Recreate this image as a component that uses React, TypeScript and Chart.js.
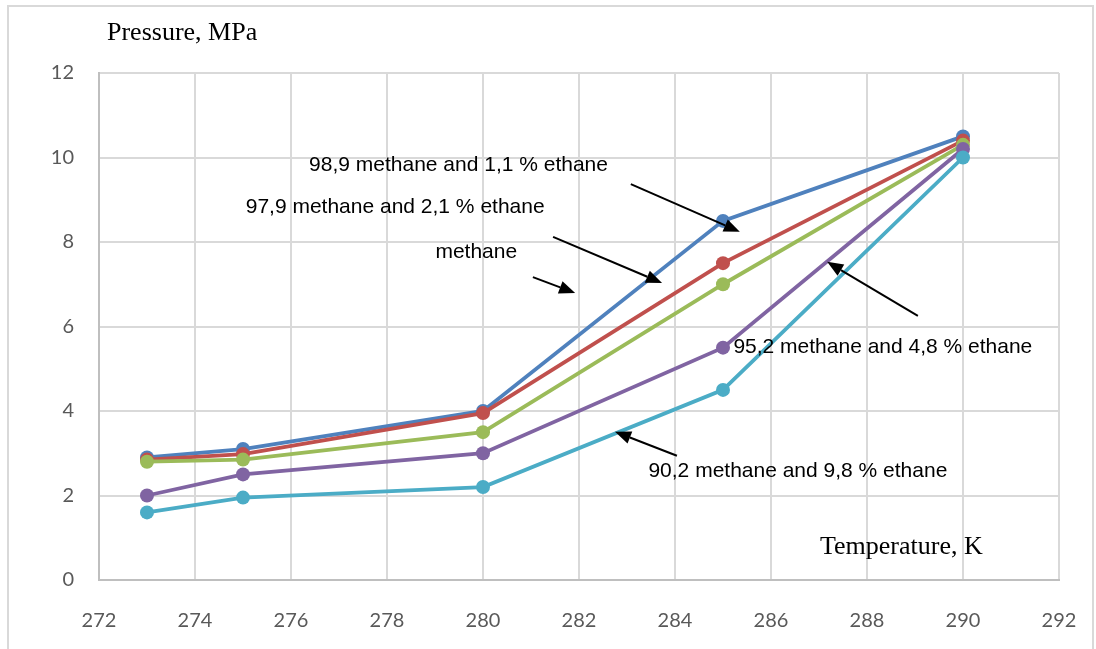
import React, { useEffect, useRef } from "react";
import { Chart, registerables } from "chart.js";

Chart.register(...registerables);

const temperatures = [273, 275, 280, 285, 290];
const series989 = [2.9, 3.1, 4.0, 8.5, 10.5];
const series979 = [2.85, 2.98, 3.95, 7.5, 10.4];
const seriesMethane = [2.8, 2.85, 3.5, 7.0, 10.3];
const series952 = [2.0, 2.5, 3.0, 5.5, 10.2];
const series902 = [1.6, 1.95, 2.2, 4.5, 10.0];

const seriesLabels = [
  "98,9 methane and 1,1 % ethane",
  "97,9 methane and 2,1 % ethane",
  "methane",
  "95,2 methane and 4,8 % ethane",
  "90,2 methane and 9,8 % ethane",
];
const seriesValues = [series989, series979, seriesMethane, series952, series902];
const seriesColors = ["#4F81BD", "#C0504D", "#9BBB59", "#8064A2", "#4BACC6"];

const yAxisTitle = "Pressure, MPa";
const xAxisTitle = "Temperature, K";

// annotation texts (in data coordinates) with arrows
const noteTexts = [
  "98,9 methane and 1,1 % ethane",
  "97,9 methane and 2,1 % ethane",
  "methane",
  "95,2 methane and 4,8 % ethane",
  "90,2 methane and 9,8 % ethane",
];
const notePos = [
  [279.49, 9.82],
  [278.17, 8.83],
  [279.86, 7.77],
  [288.33, 5.52],
  [286.56, 2.57],
];
const arrowFrom = [
  [283.08, 9.37],
  [281.46, 8.12],
  [281.04, 7.17],
  [289.06, 6.25],
  [284.04, 2.94],
];
const arrowTo = [
  [285.35, 8.24],
  [283.73, 7.03],
  [281.92, 6.79],
  [287.17, 7.53],
  [282.75, 3.51],
];

const decorPlugin = {
  id: "decor",
  beforeDraw(chart: any) {
    const ctx = chart.ctx;
    ctx.save();
    ctx.fillStyle = "#ffffff";
    ctx.fillRect(0, 0, chart.width, chart.height);
    ctx.strokeStyle = "#d9d9d9";
    ctx.lineWidth = 2;
    ctx.strokeRect(8, 6, 1085, 700);
    ctx.restore();
  },
  afterDatasetsDraw(chart: any) {
    const ctx = chart.ctx;
    const xs = chart.scales.x;
    const ys = chart.scales.y;
    ctx.save();
    for (let i = 0; i < arrowFrom.length; i++) {
      const x1 = xs.getPixelForValue(arrowFrom[i][0]);
      const y1 = ys.getPixelForValue(arrowFrom[i][1]);
      const x2 = xs.getPixelForValue(arrowTo[i][0]);
      const y2 = ys.getPixelForValue(arrowTo[i][1]);
      const ang = Math.atan2(y2 - y1, x2 - x1);
      const hl = 16;
      const hw = 6.5;
      const bx = x2 - hl * Math.cos(ang);
      const by = y2 - hl * Math.sin(ang);
      ctx.strokeStyle = "#000";
      ctx.lineWidth = 2;
      ctx.beginPath();
      ctx.moveTo(x1, y1);
      ctx.lineTo(bx, by);
      ctx.stroke();
      ctx.fillStyle = "#000";
      ctx.beginPath();
      ctx.moveTo(x2, y2);
      ctx.lineTo(bx + hw * Math.sin(ang), by - hw * Math.cos(ang));
      ctx.lineTo(bx - hw * Math.sin(ang), by + hw * Math.cos(ang));
      ctx.closePath();
      ctx.fill();
    }
    ctx.fillStyle = "#000";
    ctx.font = '21px "Liberation Sans", Arial, sans-serif';
    ctx.textAlign = "center";
    ctx.textBaseline = "middle";
    for (let i = 0; i < noteTexts.length; i++) {
      const x = xs.getPixelForValue(notePos[i][0]);
      const y = ys.getPixelForValue(notePos[i][1]);
      ctx.fillText(noteTexts[i], x, y);
    }
    ctx.font = '26px "Liberation Serif", "Times New Roman", serif';
    ctx.textAlign = "left";
    ctx.fillText(yAxisTitle, 107, 33);
    ctx.fillText(xAxisTitle, 820, 547);
    ctx.restore();
  },
};

export default function App() {
  const ref = useRef<HTMLCanvasElement | null>(null);
  useEffect(() => {
    if (!ref.current) return;
    const chart = new Chart(ref.current, {
      type: "line",
      data: {
        datasets: seriesValues.map((vals, i) => ({
          label: seriesLabels[i],
          data: temperatures.map((t, j) => ({ x: t, y: vals[j] })),
          borderColor: seriesColors[i],
          backgroundColor: seriesColors[i],
          pointBackgroundColor: seriesColors[i],
          pointBorderWidth: 0,
          pointRadius: 7,
          borderWidth: 3.8,
          tension: 0,
          fill: false,
          order: seriesValues.length - 1 - i,
        })),
      },
      options: {
        responsive: false,
        animation: false,
        layout: { padding: { top: 73, right: 37, left: 0, bottom: 0 } },
        plugins: {
          legend: { display: false },
          tooltip: { enabled: false },
        },
        scales: {
          x: {
            type: "linear",
            min: 272,
            max: 292,
            ticks: {
              stepSize: 2,
              color: "#595959",
              font: { family: "Lato", size: 20 },
              padding: 29,
            },
            grid: { color: "#d9d9d9", lineWidth: 2, drawTicks: false },
            border: { color: "#bfbfbf", width: 2 },
            afterFit: (s: any) => {
              s.height = 69;
              s.paddingLeft = 0;
              s.paddingRight = 0;
            },
          },
          y: {
            type: "linear",
            min: 0,
            max: 12,
            ticks: {
              stepSize: 2,
              color: "#595959",
              font: { family: "Lato", size: 20 },
              padding: 25,
            },
            grid: { color: "#d9d9d9", lineWidth: 2, drawTicks: false },
            border: { color: "#bfbfbf", width: 2 },
            afterFit: (s: any) => {
              s.width = 99;
              s.paddingTop = 0;
              s.paddingBottom = 0;
            },
          },
        },
      },
      plugins: [decorPlugin],
    });
    return () => chart.destroy();
  }, []);
  return (
    <canvas
      ref={ref}
      width={1096}
      height={649}
      style={{ position: "absolute", left: 0, top: 0, display: "block" }}
    />
  );
}
